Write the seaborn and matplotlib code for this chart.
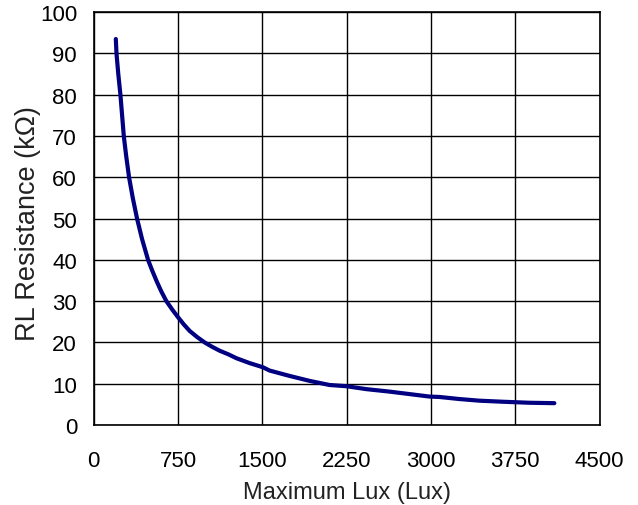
import matplotlib
matplotlib.use("Agg")
import matplotlib.pyplot as plt
import seaborn as sns
import pandas as pd

lux = [196, 202, 218, 237, 267, 289, 314, 347, 385, 430, 483, 520, 560, 600, 646, 700, 750,
       800, 853, 920, 987, 1050, 1120, 1200, 1268, 1387, 1505, 1564, 1742, 1920,
       2098, 2250, 2424, 2631, 2809, 2987, 3076, 3253, 3431, 3636, 3876, 4098]
resistance = [93.5, 90, 85, 80, 70, 65, 60, 55, 50, 45, 40, 37.4, 34.8, 32.4, 30, 27.9, 26.1,
              24.4, 22.8, 21.3, 20.0, 19.0, 18.0, 17.1, 16.2, 15.0, 14.0, 13.2, 11.9, 10.7,
              9.7, 9.4, 8.7, 8.1, 7.5, 6.9, 6.8, 6.3, 5.9, 5.65, 5.4, 5.3]

xticks = [0, 750, 1500, 2250, 3000, 3750, 4500]
yticks = [0, 10, 20, 30, 40, 50, 60, 70, 80, 90, 100]

df = pd.DataFrame({"lux": lux, "res": resistance})

sns.set_style("white")
plt.rcParams["font.family"] = ["Liberation Sans", "DejaVu Sans"]

fig = plt.figure(figsize=(6.38, 5.06), dpi=100)
ax = fig.add_axes([0.147, 0.158, 0.9397 - 0.147, 0.974 - 0.158])

sns.lineplot(data=df, x="lux", y="res", ax=ax, color="#000080", linewidth=3,
             sort=False, estimator=None)

ax.set_xlim(0, 4500)
ax.set_ylim(0, 100)
ax.set_xticks(xticks)
ax.set_yticks(yticks)
ax.set_xticklabels([str(t) for t in xticks])
ax.set_yticklabels([str(t) for t in yticks])
ax.grid(True, color="black", linewidth=1)
ax.set_axisbelow(True)
for s in ax.spines.values():
    s.set_color("black")
    s.set_linewidth(1.2)
    s.set_visible(True)
ax.tick_params(axis="both", direction="in", length=5, width=1.2, color="black",
               labelsize=16, labelcolor="black")
ax.tick_params(axis="y", pad=12)
ax.tick_params(axis="x", pad=18)
ax.set_xlabel("Maximum Lux (Lux)", fontsize=17, color="#222222", labelpad=7)
ax.set_ylabel("RL Resistance (kΩ)", fontsize=19.5, color="#222222")
ax.yaxis.set_label_coords(-0.105, 0.49)

fig.savefig("out.png", dpi=100, facecolor="white")
